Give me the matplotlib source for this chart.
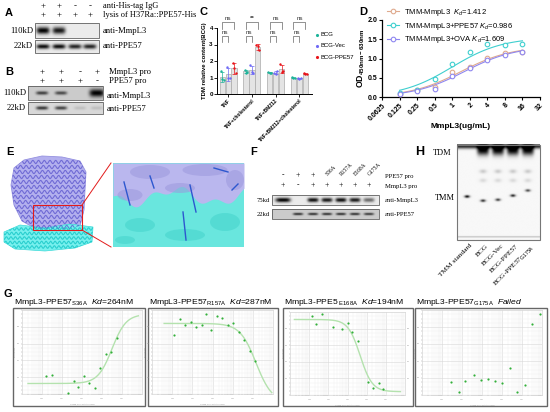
import numpy as np
import matplotlib
matplotlib.use("Agg")
import matplotlib.pyplot as plt
from matplotlib.patches import Rectangle, Polygon, Ellipse
from matplotlib.lines import Line2D

plt.rcParams['font.family'] = ['Liberation Sans', 'DejaVu Sans']
plt.rcParams['mathtext.fontset'] = 'custom'
plt.rcParams['mathtext.rm'] = 'Liberation Sans'
plt.rcParams['mathtext.it'] = 'Liberation Sans:italic'
plt.rcParams['mathtext.bf'] = 'Liberation Sans:bold'

# ---------------- data ----------------
# A: co-IP
a_his = ['+', '+', '-', '-']
a_lysis = ['+', '+', '+', '+']
a_mmpl3 = [1.0, 0.9, 0.0, 0.0]
a_ppe57 = [0.95, 0.95, 0.85, 0.85]

# B: pull-down
b_mmpl3_pro = ['+', '+', '-', '+']
b_ppe57_pro = ['+', '+', '+', '-']
b_mmpl3 = [0.7, 0.65, 0.0, 1.0]
b_ppe57 = [0.75, 0.7, 0.12, 0.12]

# C: TDM relative content
c_groups = ["TNF", "TNF+cholesterol", "TNF+BM212", "TNF+BM212+cholesterol"]
c_strains = ["BCG", "BCG-Vec", "BCG-PPE57"]
c_bcg = [[1.38, 0.9, 0.82], [1.45, 1.3, 1.35], [1.35, 1.28, 1.3], [1.05, 0.95, 1.0]]
c_vec = [[1.65, 0.95, 1.0], [1.75, 1.35, 1.3], [1.3, 1.22, 1.38], [1.0, 0.9, 0.95]]
c_ppe = [[1.9, 1.55, 1.25], [3.0, 2.88, 2.65], [1.8, 1.35, 1.4], [1.25, 1.2, 1.22]]
c_sig_outer = ["ns", "**", "ns", "ns"]
c_sig_inner = ["ns", "ns", "ns", "ns"]

# D: ELISA binding
d_conc = [0.125, 0.25, 0.5, 1, 2, 4, 8, 16]
d_mmpl3 = [0.08, 0.18, 0.25, 0.65, 0.78, 1.02, 1.15, 1.18]
d_ppe57 = [0.10, 0.18, 0.47, 0.85, 1.18, 1.37, 1.35, 1.38]
d_ova = [0.07, 0.15, 0.20, 0.55, 0.75, 0.97, 1.10, 1.17]
d_labels = ["TMM-MmpL3  ", "TMM-MmpL3+PPE57 ", "TMM-MmpL3+OVA "]
d_kd = [1.412, 0.986, 1.609]
d_bmax = [1.32, 1.55, 1.32]
d_xticks = ["0.0625", "0.125", "0.25", "0.5", "1", "2", "4", "8", "16", "32"]

# F: mutant pull-down
f_ppe57_pro = ['-', '+', '+', 'S36A', 'R157A', 'E168A', 'G175A']
f_mmpl3_pro = ['+', '-', '+', '+', '+', '+', '+']
f_mmpl3 = [1.0, 0.0, 0.95, 0.9, 0.95, 0.9, 0.55]
f_ppe57 = [0.0, 0.8, 0.8, 0.8, 0.8, 0.8, 0.75]

# G: MST
g_titles = [r"MmpL3-PPE57$_{\mathrm{S36A}}$  $\mathit{Kd}$=264nM",
            r"MmpL3-PPE57$_{\mathrm{R157A}}$  $\mathit{Kd}$=287nM",
            r"MmpL3-PPE5$_{\ \mathrm{E168A}}$  $\mathit{Kd}$=194nM",
            r"MmpL3-PPE57$_{\mathrm{G175A}}$  $\mathit{Failed}$"]
g_conc = [
    [1.58, 3.16, 19.1, 38, 66, 132, 229, 457, 794, 1585, 2754, 5495],
    [1.2, 2.4, 4.2, 8.3, 14.5, 28.8, 50, 87, 174, 302, 603, 1047, 2089, 3631, 7244, 12589],
    [1.38, 2.4, 4.8, 16.6, 50, 100, 174, 347, 1202, 2089, 4169, 7244],
    [2.75, 7.2, 14.5, 38, 87, 200, 457, 1047, 2399, 5495, 14454, 33113, 75858],
]
g_resp = [
    [0.21, 0.23, 0.01, 0.16, 0.08, 0.22, 0.13, 0.07, 0.31, 0.48, 0.50, 0.67],
    [0.70, 0.89, 0.82, 0.86, 0.80, 0.82, 0.95, 0.76, 0.93, 0.90, 0.82, 0.85, 0.74, 0.64, 0.51, 0.39],
    [0.95, 0.86, 0.97, 0.82, 0.80, 0.87, 0.76, 0.65, 0.16, 0.09, 0.15, 0.07],
    [0.15, 0.04, 0.17, 0.23, 0.18, 0.19, 0.17, 0.14, 0.32, 0.03, 0.12, 0.84, 0.95],
]
# fitted curve: (low, high, EC50 nM, hill), plotted range
g_fit = [(0.125, 0.95, 3162, 1.23), (0.84, -0.1, 14454, 1.09), (0.91, 0.04, 457, 1.38), None]
g_fit_range = [(0.2, 66000), (0.4, 87000), (0.17, 57500), None]

# H: TLC
h_lanes = ["TMM standard", "BCG", "BCG-Vec", "BCG-PPE57", r"BCG-PPE57$_{\mathrm{G175A}}$"]
h_tdm = [0.0, 1.0, 1.0, 1.0, 1.0]
h_tmm = [0.95, 0.8, 0.75, 0.85, 0.7]
h_tmm_rf = [0.435, 0.39, 0.40, 0.445, 0.50]

# ---------------- figure ----------------
fig = plt.figure(figsize=(5.5, 4.12), dpi=100)
ov = fig.add_axes([0, 0, 1, 1])
ov.axis('off')


def rect(x0, y0, x1, y1):
    return [x0 / 550, 1 - y1 / 412, (x1 - x0) / 550, (y1 - y0) / 412]


def blot(x0, y0, x1, y1, lanes, amounts, sizes, bg=0.9, res=4):
    nx, ny = int((x1 - x0) * res), int((y1 - y0) * res)
    X, Y = np.meshgrid(np.linspace(x0, x1, nx), np.linspace(y0, y1, ny))
    img = np.full((ny, nx), bg)
    yc = (y0 + y1) / 2
    for xc, a, (bw, bh) in zip(lanes, amounts, sizes):
        img -= a * bg * np.exp(-((X - xc) / bw) ** 4 - ((Y - yc) / bh) ** 2)
    ov.imshow(np.clip(img, 0, 1), cmap='gray', vmin=0, vmax=1, extent=(x0, x1, y1, y0),
              aspect='auto', interpolation='bilinear', zorder=1)
    ov.add_patch(Rectangle((x0, y0), x1 - x0, y1 - y0, fill=False, ec='#444', lw=0.5, zorder=2))


serif = dict(family='Liberation Serif')
panel = dict(fontsize=8, fontweight='bold', va='center', ha='left')
for lab, x, y in [("A", 5, 13), ("B", 5, 72), ("C", 200, 12), ("D", 359, 12),
                  ("E", 6, 152), ("F", 250, 152), ("G", 4, 294)]:
    ov.text(x, y, lab, **panel)
ov.text(415, 152, "H", fontsize=9, fontweight='bold', va='center')

# ---- A ----
a_x = [43, 59, 75, 90]
for x, s1, s2 in zip(a_x, a_his, a_lysis):
    ov.text(x, 6, s1, ha='center', va='center', fontsize=6.5, **serif)
    ov.text(x, 15, s2, ha='center', va='center', fontsize=6.5, **serif)
ov.text(103, 6, "anti-His-tag IgG", va='center', fontsize=6.0, **serif)
ov.text(103, 15, "lysis of H37Ra::PPE57-His", va='center', fontsize=6.0, **serif)
blot(35, 23, 99, 38, a_x, a_mmpl3, [(6.5, 3.5)] * 4, bg=0.92)
blot(35, 40, 99, 53, a_x, a_ppe57, [(6.5, 2.4)] * 4, bg=0.92)
ov.text(33, 31, "110kD", ha='right', va='center', fontsize=6.2, **serif)
ov.text(33, 46, "22kD", ha='right', va='center', fontsize=6.2, **serif)
ov.text(103, 31, "anti-MmpL3", va='center', fontsize=6.2, **serif)
ov.text(103, 46, "anti-PPE57", va='center', fontsize=6.2, **serif)

# ---- B ----
b_x = [42, 61, 80, 97]
for x, s1, s2 in zip(b_x, b_mmpl3_pro, b_ppe57_pro):
    ov.text(x, 72, s1, ha='center', va='center', fontsize=6.5, **serif)
    ov.text(x, 81, s2, ha='center', va='center', fontsize=6.5, **serif)
ov.text(109, 72, "MmpL3 pro", va='center', fontsize=6.2, **serif)
ov.text(109, 81, "PPE57 pro", va='center', fontsize=6.2, **serif)
blot(28, 86, 103, 100, b_x, b_mmpl3, [(6, 1.8), (6, 1.8), (6, 1.8), (7.5, 4)], bg=0.8)
blot(28, 102, 103, 114, b_x, b_ppe57, [(6, 1.8)] * 4, bg=0.85)
ov.text(26, 93, "110kD", ha='right', va='center', fontsize=6.2, **serif)
ov.text(26, 108, "22kD", ha='right', va='center', fontsize=6.2, **serif)
ov.text(107, 96, "anti-MmpL3", va='center', fontsize=6.2, **serif)
ov.text(107, 109, "anti-PPE57", va='center', fontsize=6.2, **serif)

# ---- C ----
c_cols = ['#1db39a', '#6f6af5', '#e8141a']
axC = fig.add_axes(rect(217, 28, 312, 94))
axC.set_facecolor('none')
offs = [-0.25, 0.0, 0.25]
jit = np.array([-0.06, 0.0, 0.06])
for j, (vals, col, lab) in enumerate(zip([c_bcg, c_vec, c_ppe], c_cols, c_strains)):
    for g in range(len(c_groups)):
        v = np.array(vals[g])
        x = g + offs[j]
        axC.bar(x, v.mean(), width=0.22, color='#e4e4e4', edgecolor='#aaaaaa', lw=0.5, zorder=1)
        axC.errorbar(x, v.mean(), yerr=v.std(ddof=1), color=col, capsize=1.2, lw=0.5,
                     capthick=0.5, zorder=3)
        axC.scatter(x + jit, v, s=3, color=col, lw=0, zorder=4, label=lab if g == 0 else None)
for g in range(len(c_groups)):
    x1, x2, x3 = g - 0.25, g, g + 0.25
    axC.plot([x1, x1, x3, x3], [3.95, 4.36, 4.36, 3.95], color='#666', lw=0.5, clip_on=False)
    axC.text(g, 4.42, c_sig_outer[g], ha='center', va='bottom', fontsize=4.5, color='#333',
             fontweight='bold' if c_sig_outer[g] != 'ns' else 'normal')
    axC.plot([x1, x1, x2, x2], [3.15, 3.5, 3.5, 3.15], color='#666', lw=0.5, clip_on=False)
    axC.text((x1 + x2) / 2, 3.56, c_sig_inner[g], ha='center', va='bottom', fontsize=4.5, color='#333')
axC.set_xlim(-0.47, 3.53)
axC.set_ylim(0, 4)
axC.set_yticks([0, 1, 2, 3, 4])
axC.set_xticks(range(len(c_groups)))
axC.set_xticklabels(c_groups, rotation=45, ha='right', rotation_mode='anchor', fontsize=3.6,
                    fontweight='bold')
axC.tick_params(axis='y', labelsize=4.5, length=2, width=0.6, pad=1)
axC.tick_params(axis='x', length=2, width=0.6, pad=1)
for t in axC.get_yticklabels():
    t.set_fontweight('bold')
for s in ['top', 'right']:
    axC.spines[s].set_visible(False)
for s in ['left', 'bottom']:
    axC.spines[s].set_linewidth(0.7)
axC.set_ylabel("TDM relative content(BCG)", fontsize=4.3, fontweight='bold', labelpad=2)
axC.legend(loc='upper left', bbox_to_anchor=(0.96, 1.02), fontsize=4.3, frameon=False,
           handletextpad=0.2, labelspacing=1.0, markerscale=1.3, handlelength=1)

# ---- D ----
d_cols = ['#dfaa8e', '#3fcfcf', '#8f87f0']
axD = fig.add_axes(rect(382, 20, 540, 97))
axD.set_facecolor('none')
axD.set_xscale('log', base=2)
handles = []
for vals, kd, bmax, col, lab in zip([d_mmpl3, d_ppe57, d_ova], d_kd, d_bmax, d_cols, d_labels):
    xs = np.logspace(np.log2(d_conc[0]), np.log2(d_conc[-1]), 120, base=2)
    axD.plot(xs, bmax * xs / (kd + xs), color=col, lw=0.8, zorder=2)
    axD.plot(d_conc, vals, 'o', mfc='white', mec=col, ms=3.3, mew=0.8, zorder=3)
    handles.append(Line2D([0], [0], color=col, lw=0.8, marker='o', mfc='white', mec=col,
                          ms=3.3, mew=0.8, label=lab + r"$K_d$" + f"={kd}"))
ticks = [2.0 ** k for k in range(-4, 6)]
axD.set_xlim(ticks[0], ticks[-1])
axD.set_xticks(ticks)
axD.set_xticklabels(d_xticks, rotation=45, ha='right', rotation_mode='anchor', fontsize=5,
                    fontweight='bold')
axD.minorticks_off()
axD.set_ylim(0, 2)
axD.set_yticks([0, 0.5, 1.0, 1.5, 2.0])
axD.set_yticklabels(["0.0", "0.5", "1.0", "1.5", "2.0"], fontsize=5, fontweight='bold')
axD.tick_params(length=2.5, width=0.8, pad=1)
for s in ['top', 'right']:
    axD.spines[s].set_visible(False)
for s in ['left', 'bottom']:
    axD.spines[s].set_linewidth(0.9)
axD.set_ylabel(r"$\mathbf{OD_{450nm-630nm}}$", fontsize=6.3, labelpad=0.5)
axD.set_xlabel("MmpL3(ug/mL)", fontsize=6, fontweight='bold', labelpad=1)
axD.legend(handles=handles, loc='upper left', bbox_to_anchor=(384 / 550, 1 - 4 / 412),
           bbox_transform=fig.transFigure, fontsize=5.5, frameon=False, handlelength=1.6,
           labelspacing=0.35, handletextpad=0.6, borderaxespad=0)

# ---- E ----
prot = Polygon([(14, 168), (24, 160), (42, 156), (62, 157), (80, 161), (86, 172), (85, 190),
                (84, 210), (80, 226), (62, 231), (38, 230), (22, 221), (14, 205), (11, 185)],
               closed=True, fc='#b3b0ee', ec='#9591e0', lw=0.6, zorder=2)
ov.add_patch(prot)
for k, y in enumerate(np.arange(162, 230, 5)):
    xs = np.linspace(12, 86, 200)
    ln, = ov.plot(xs, y + 1.6 * np.sin(xs * 1.1 + k), color='#4c46c8', lw=0.8, alpha=0.65, zorder=3)
    ln.set_clip_path(prot)
band = Polygon([(4, 232), (20, 225), (45, 228), (70, 224), (93, 227), (92, 242), (75, 248),
                (45, 251), (15, 249), (4, 242)], closed=True, fc='#78f0ee', ec='#3ddad8', lw=0.5,
               zorder=2)
ov.add_patch(band)
for k, y in enumerate(np.arange(229, 251, 4.5)):
    xs = np.linspace(4, 94, 200)
    ln, = ov.plot(xs, y + 1.3 * np.sin(xs * 1.4 + k), color='#10c4c4', lw=0.8, alpha=0.75, zorder=3)
    ln.set_clip_path(band)
ov.add_patch(Rectangle((33, 205), 49, 25, fill=False, ec='#e21b1b', lw=0.8, zorder=4))
ov.plot([82, 111], [205, 163], color='#e21b1b', lw=0.7, zorder=4)
ov.plot([82, 111], [230, 247], color='#e21b1b', lw=0.7, zorder=4)
ov.add_patch(Rectangle((113, 163), 131, 84, fc='#69e6de', ec='none', zorder=2))
xs = np.linspace(113, 244, 200)
yb = 196 + 7 * np.sin((xs - 113) / 13) - 4 * np.sin((xs - 113) / 5)
ov.fill_between(xs, 163, yb, color='#bab7ee', zorder=3, lw=0)
for cx, cy, w, h in [(150, 172, 40, 14), (205, 170, 45, 12), (130, 195, 25, 12), (235, 180, 18, 20),
                     (180, 188, 30, 10)]:
    ov.add_patch(Ellipse((cx, cy), w, h, fc='#9c98dd', ec='none', alpha=0.55, zorder=3))
for cx, cy, w, h in [(140, 225, 30, 14), (185, 235, 40, 12), (225, 222, 30, 18), (125, 240, 20, 8)]:
    ov.add_patch(Ellipse((cx, cy), w, h, fc='#40d2ca', ec='none', alpha=0.5, zorder=3))
for xa, ya, xb, yb2 in [(124, 182, 130, 205), (190, 185, 196, 212), (183, 212, 186, 240),
                        (214, 168, 228, 172), (232, 190, 238, 184), (150, 176, 154, 188)]:
    ov.plot([xa, xb], [ya, yb2], color='#2d57cf', lw=1.0, zorder=4)

# ---- F ----
f_x = [283, 298, 313, 327, 341, 355, 369]
for x, s1, s2 in zip(f_x, f_ppe57_pro, f_mmpl3_pro):
    if len(s1) > 1:
        ov.text(x - 2, 177, s1, rotation=45, ha='left', va='bottom', fontsize=4, **serif)
    else:
        ov.text(x, 175, s1, ha='center', va='center', fontsize=5.5, **serif)
    ov.text(x, 185, s2, ha='center', va='center', fontsize=5.5, **serif)
ov.text(385, 176, "PPE57 pro", va='center', fontsize=4.8, **serif)
ov.text(385, 186, "MmpL3 pro", va='center', fontsize=4.8, **serif)
blot(272, 195, 379, 205, f_x, f_mmpl3, [(7.5, 2.3)] + [(5.5, 2.2)] * 6, bg=0.92)
blot(272, 209, 379, 219, f_x, f_ppe57, [(5, 1.2)] * 7, bg=0.8)
ov.text(270, 200, "75kd", ha='right', va='center', fontsize=4.8, **serif)
ov.text(270, 214, "22kd", ha='right', va='center', fontsize=4.8, **serif)
ov.text(385, 200, "anti-MmpL3", va='center', fontsize=4.8, **serif)
ov.text(385, 214, "anti-PPE57", va='center', fontsize=4.8, **serif)

# ---- H ----
h_x = [467, 483, 498, 513, 528]
x0, y0, x1, y1 = 457, 145, 540, 240
X, Y = np.meshgrid(np.linspace(x0, x1, 250), np.linspace(y0, y1, 285))
img = np.full(X.shape, 0.97)
img -= 0.8 * np.exp(-((Y - 147) / 2.5) ** 2)
img -= 0.25 * np.exp(-((Y - 237) / 0.6) ** 2)
for xc, tdm, tmm, rf in zip(h_x, h_tdm, h_tmm, h_tmm_rf):
    img -= tdm * 0.95 * np.exp(-((X - xc) / 6) ** 4 - ((Y - 151) / 5) ** 2)
    img -= tdm * 0.18 * np.exp(-((X - xc) / 3.5) ** 2 - ((Y - 172) / 2) ** 2)
    img -= tdm * 0.12 * np.exp(-((X - xc) / 3.5) ** 2 - ((Y - 181) / 2) ** 2)
    img -= tmm * np.exp(-((X - xc) / 2.6) ** 2 - ((Y - (237 - rf * 92)) / 1.3) ** 2)
ov.imshow(np.clip(img, 0, 1), cmap='gray', vmin=0, vmax=1, extent=(x0, x1, y1, y0),
          aspect='auto', interpolation='bilinear', zorder=1)
ov.add_patch(Rectangle((x0, y0), x1 - x0, y1 - y0, fill=False, ec='#777', lw=0.8, zorder=2))
ov.text(433, 153, "TDM", va='center', fontsize=6, **serif)
ov.text(435, 198, "TMM", va='center', fontsize=6, **serif)
for x, lab in zip(h_x, h_lanes):
    ov.text(x + 3, 243, lab, rotation=45, ha='right', va='top', rotation_mode='anchor',
            fontsize=5.3, **serif)

# ---- G ----
g_boxes = [(13, 308, 145, 406), (148, 308, 278, 406), (283, 308, 413, 406), (415, 308, 547, 406)]
g_inner = [(22, 310, 142, 394), (152, 310, 273, 394), (290, 312, 405, 395), (422, 310, 542, 395)]
for i in range(4):
    bx = g_boxes[i]
    ov.add_patch(Rectangle((bx[0], bx[1]), bx[2] - bx[0], bx[3] - bx[1], fill=False,
                           ec='#666', lw=1.0, zorder=2))
    ov.text(bx[0] + 1, 302.5, g_titles[i], va='center', ha='left', fontsize=6.1)
    ax = fig.add_axes(rect(*g_inner[i]))
    ax.set_xscale('log')
    ax.set_xlim(0.1, 1e5)
    ax.set_ylim(0, 1)
    ax.set_xticks([1, 10, 100, 1000, 10000])
    ax.set_yticks([0.2, 0.4, 0.6, 0.8])
    ax.minorticks_on()
    ax.grid(which='major', color='#d8d8d8', lw=0.4)
    ax.grid(which='minor', color='#eeeeee', lw=0.3)
    ax.tick_params(which='both', labelsize=1.5, colors='#999', length=1, width=0.3, pad=0.5)
    if i == 2:
        ax.tick_params(labelright=True)
    for s in ax.spines.values():
        s.set_color('#cccccc')
        s.set_linewidth(0.4)
    ax.set_xlabel("Ligand Concentration [nM]", fontsize=1.5, color='#999', labelpad=1)
    ax.set_ylabel("Fnorm [‰]", fontsize=1.5, color='#999', labelpad=1)
    if g_fit[i] is not None:
        lo, hi, ec, h = g_fit[i]
        xs = np.logspace(np.log10(g_fit_range[i][0]), np.log10(g_fit_range[i][1]), 200)
        ax.plot(xs, lo + (hi - lo) / (1 + 10 ** (h * (np.log10(ec) - np.log10(xs)))),
                color='#b4e2ae', lw=1.0)
    ax.scatter(g_conc[i], g_resp[i], s=2.5, color='#33b03a', lw=0, zorder=3)

ov.set_xlim(0, 550)
ov.set_ylim(412, 0)
fig.savefig("out.png", dpi=100)
